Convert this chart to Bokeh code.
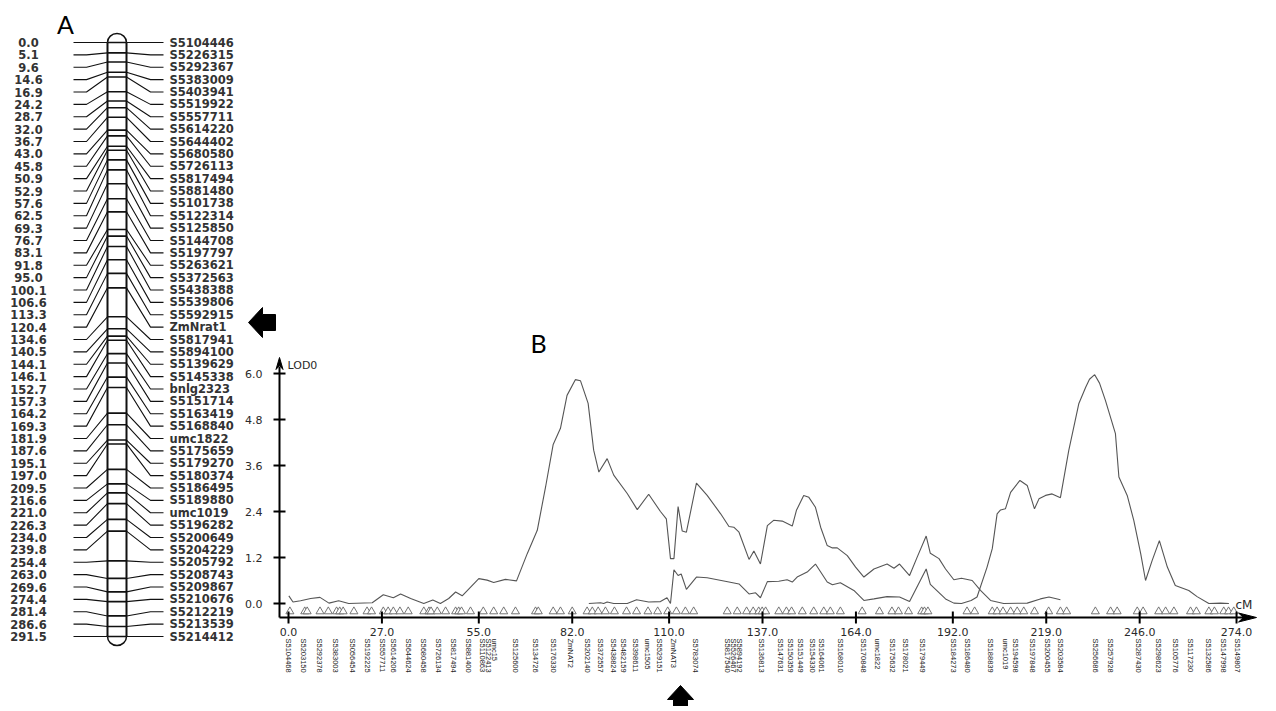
import math
from bokeh.plotting import figure
from bokeh.models import Range1d
from bokeh.core.properties import value
from bokeh.embed import file_html
from bokeh.resources import INLINE

# ---------------- Panel A data: linkage map ----------------
a_pos = [0.0, 5.1, 9.6, 14.6, 16.9, 24.2, 28.7, 32.0, 36.7, 43.0, 45.8, 50.9, 52.9, 57.6,
         62.5, 69.3, 76.7, 83.1, 91.8, 95.0, 100.1, 106.6, 113.3, 120.4, 134.6, 140.5,
         144.1, 146.1, 152.7, 157.3, 164.2, 169.3, 181.9, 187.6, 195.1, 197.0, 209.5,
         216.6, 221.0, 226.3, 234.0, 239.8, 254.4, 263.0, 269.6, 274.4, 281.4, 286.6, 291.5]
a_names = ["S5104446", "S5226315", "S5292367", "S5383009", "S5403941", "S5519922", "S5557711",
           "S5614220", "S5644402", "S5680580", "S5726113", "S5817494", "S5881480", "S5101738",
           "S5122314", "S5125850", "S5144708", "S5197797", "S5263621", "S5372563", "S5438388",
           "S5539806", "S5592915", "ZmNrat1", "S5817941", "S5894100", "S5139629", "S5145338",
           "bnlg2323", "S5151714", "S5163419", "S5168840", "umc1822", "S5175659", "S5179270",
           "S5180374", "S5186495", "S5189880", "umc1019", "S5196282", "S5200649", "S5204229",
           "S5205792", "S5208743", "S5209867", "S5210676", "S5212219", "S5213539", "S5214412"]

# ---------------- Panel B data: LOD profiles ----------------
lod1_cm = [0.1, 1.3, 3.5, 6.4, 9.1, 11.7, 14.5, 17.4, 24.2, 27.4,
           30.3, 32.4, 35.3, 39.1, 41.7, 43.9, 46.3, 48.3, 50.2, 55.0,
           57.4, 59.3, 62.7, 65.9, 69.0, 71.9, 74.3, 76.5, 78.6, 80.5,
           82.9, 84.4, 86.6, 88.2, 89.7, 92.1, 94.0, 97.9, 100.8, 104.1,
           107.5, 109.2, 110.4, 111.4, 112.6, 113.8, 115.0, 117.9, 121.0, 124.9,
           127.3, 128.7, 130.2, 133.1, 134.5, 136.4, 138.4, 140.2, 142.7, 145.6,
           146.8, 148.9, 150.4, 152.3, 153.8, 155.7, 157.2, 158.6, 161.5, 163.9,
           166.3, 169.2, 173.0, 175.0, 176.6, 179.5, 181.7, 184.3, 185.5, 188.0,
           189.9, 192.3, 194.5, 197.6, 200.0, 202.9, 206.7, 213.5, 217.3, 219.8,
           223.1]
lod1 = [0.20, 0.04, 0.07, 0.13, 0.16, 0.01, 0.07, 0.0, 0.02, 0.23,
        0.15, 0.25, 0.13, 0.0, 0.09, 0.0, 0.13, 0.30, 0.20, 0.65,
        0.61, 0.55, 0.63, 0.59, 1.30, 1.91, 3.04, 4.15, 4.57, 5.43,
        5.84, 5.81, 5.22, 4.0, 3.43, 3.78, 3.35, 2.87, 2.45, 2.85,
        2.40, 2.21, 1.17, 1.17, 2.53, 1.89, 1.86, 3.14, 2.82, 2.34,
        2.01, 1.99, 1.86, 1.15, 1.37, 1.03, 2.03, 2.17, 2.15, 2.02,
        2.43, 2.82, 2.77, 2.51, 1.99, 1.51, 1.45, 1.45, 1.25, 0.95,
        0.69, 0.90, 1.03, 0.92, 1.03, 0.73, 1.21, 1.76, 1.31, 1.17,
        0.90, 0.62, 0.66, 0.60, 0.34, 0.08, 0.0, 0.01, 0.12, 0.17,
        0.10]

lod2_cm = [86.8, 90.2, 91.1, 92.1, 94.0, 97.9, 100.6, 104.1, 107.5, 109.4,
           110.4, 111.4, 112.6, 113.5, 115.0, 117.9, 121.0, 127.3, 130.2, 133.1,
           135.0, 136.4, 138.4, 141.7, 144.1, 145.6, 147.0, 149.9, 152.3, 155.7,
           157.2, 159.5, 163.4, 166.3, 169.2, 173.0, 176.6, 179.5, 184.3, 185.5,
           189.9, 192.3, 194.5, 197.3, 199.0, 201.9, 203.4, 204.8, 205.8, 207.2,
           208.7, 211.4, 213.5, 215.6, 216.9, 218.8, 220.7, 223.1, 225.5, 228.4,
           230.4, 231.5, 233.0, 234.4, 236.1, 239.0, 240.0, 242.4, 244.3, 246.3,
           247.7, 249.6, 251.7, 254.0, 256.3, 260.2, 262.6, 266.0, 269.4, 271.8]
lod2 = [0.0, 0.02, 0.0, 0.04, 0.0, 0.0, 0.10, 0.04, 0.05, 0.15,
        0.0, 0.88, 0.73, 0.77, 0.37, 0.69, 0.67, 0.56, 0.51, 0.25,
        0.28, 0.15, 0.57, 0.58, 0.62, 0.56, 0.69, 0.82, 1.03, 0.56,
        0.49, 0.54, 0.34, 0.08, 0.12, 0.18, 0.17, 0.05, 0.90, 0.50,
        0.12, 0.01, 0.0, 0.08, 0.17, 0.95, 1.43, 2.34, 2.44, 2.47,
        2.90, 3.21, 3.08, 2.47, 2.73, 2.82, 2.86, 2.76, 3.99, 5.21,
        5.64, 5.85, 5.97, 5.75, 5.30, 4.43, 3.30, 2.82, 2.17, 1.30,
        0.60, 1.12, 1.64, 0.95, 0.47, 0.34, 0.18, 0.0, 0.01, 0.0]

b_pos = [0.0, 4.3, 9.0, 13.6, 18.5, 22.8, 27.2, 30.3, 34.7, 39.0, 43.4, 47.7, 52.0,
         56.1, 57.8, 59.5, 65.6, 71.4, 76.6, 81.5, 86.4, 90.2, 93.9, 96.8, 100.3,
         103.8, 107.2, 111.3, 117.6, 126.9, 128.6, 130.3, 136.7, 142.2, 145.1, 148.0,
         151.4, 154.0, 159.5, 166.2, 170.2, 174.6, 178.3, 183.2, 192.2, 196.2, 202.9,
         207.2, 210.1, 215.0, 219.4, 223.1, 233.2, 237.6, 245.7, 251.4, 256.4, 260.7,
         265.9, 270.2, 274.3]
b_names = ["S5104468", "S5203150", "S5292378", "S5383003", "S5056454", "S5192225",
           "S5557711", "S5614206", "S5644624", "S5680458", "S5726134", "S5817494",
           "S5881400", "S5110863", "S5122413", "umc15", "S5125600", "S5134726",
           "S5176330", "ZmNAT2", "S5202140", "S5372557", "S5438824", "S5482159",
           "S5398611", "umc1505", "S5529151", "ZmNAT3", "S5783074", "S5817540",
           "S5526467", "S5894192", "S5136813", "S5147631", "S5150359", "S5151449",
           "S5154330", "S5164061", "S5168010", "S5170848", "umc1822", "S5175632",
           "S5178021", "S5179449", "S5184273", "S5186480", "S5188839", "umc1019",
           "S5194598", "S5197848", "S5200455", "S5203584", "S5256686", "S5257928",
           "S5287430", "S5298623", "S5105776", "S5117230", "S5132586", "S5147998",
           "S5149807"]
b_tri = [0.4, 4.7, 5.4, 9.1, 11.5, 13.9, 14.8, 15.8, 18.9, 22.7, 24.0, 27.4, 28.8, 30.3,
         32.2, 34.6, 39.1, 40.6, 41.2, 43.0, 45.4, 48.3, 49.2, 50.0, 52.6, 56.3, 59.3,
         62.2, 65.6, 71.4, 72.2, 76.5, 78.6, 82.0, 86.3, 87.8, 89.5, 91.6, 94.2, 97.7,
         100.6, 103.9, 106.7, 109.6, 112.1, 114.7, 117.1, 126.8, 129.7, 132.4, 134.3,
         135.9, 136.9, 137.9, 141.7, 143.9, 145.4, 148.5, 151.8, 154.7, 156.6, 159.5,
         165.8, 170.8, 174.4, 176.3, 179.2, 183.0, 183.8, 184.8, 196.1, 198.3, 203.4,
         204.8, 206.5, 208.7, 210.6, 212.5, 215.6, 219.7, 223.1, 224.9, 233.2, 237.6,
         239.5, 245.3, 247.0, 251.5, 253.5, 255.9, 260.7, 262.4, 266.0, 267.6, 270.3,
         271.7, 273.2]
x_ticks = [0, 27, 55, 82, 110, 137, 164, 192, 219, 246, 274]
x_tick_labels = ["0.0", "27.0", "55.0", "82.0", "110.0", "137.0", "164.0", "192.0",
                 "219.0", "246.0", "274.0"]
y_ticks = [0.0, 1.2, 2.4, 3.6, 4.8, 6.0]
y_tick_labels = ["0.0", "1.2", "2.4", "3.6", "4.8", "6.0"]

assert len(lod1_cm) == len(lod1) and len(lod2_cm) == len(lod2)
assert len(b_pos) == len(b_names) and len(a_pos) == len(a_names)

# ---------------- layout geometry (page pixels) ----------------
W, H = 1270, 706
PL, PT, PR, PB = 0, 0, W, H

# panel A chromosome scale
CHR_TOP, CHR_BOT = 42, 636
chr_span = a_pos[-1]
s_chr = (CHR_BOT - CHR_TOP) / chr_span

# panel B scales
X0, PXC = 288.0, 3.46     # page x of 0 cM, px per cM
Y0, PXL = 603.0, 38.33    # page y of LOD 0, px per LOD


def cm_at(px):
    return (px - X0) / PXC


def lod_at(py):
    return (Y0 - py) / PXL


p = figure(width=W, height=H, x_range=Range1d(PL, PR), y_range=Range1d(PB, PT),
           output_backend="svg", toolbar_location=None, min_border=0,
           x_axis_location=None, y_axis_location=None)
p.outline_line_color = None
p.grid.visible = False
p.background_fill_color = "white"
p.border_fill_color = "white"

p.extra_y_ranges = {
    "chr": Range1d(start=(PB - CHR_TOP) / s_chr, end=(PT - CHR_TOP) / s_chr),
    "lod": Range1d(start=lod_at(PB), end=lod_at(PT)),
}
p.extra_x_ranges = {"cm": Range1d(start=cm_at(PL), end=cm_at(PR))}

INK = "#111111"
TXT = "#2a2a2a"

# ---------------- Panel A ----------------
n = len(a_pos)
rows = [i * chr_span / (n - 1) for i in range(n)]
CL, CR = 107, 126
xs = [[73, 86, CL] for _ in range(n)] + [[CR, 150, 163] for _ in range(n)]
ys = [[r, r, c] for r, c in zip(rows, a_pos)] + [[c, r, r] for r, c in zip(rows, a_pos)]
p.multi_line(xs, ys, y_range_name="chr", line_color=INK, line_width=1.1)

CX = (CL + CR) / 2
p.ellipse(x=[CX, CX], y=[0, chr_span], width=CR - CL, height=18, width_units="screen",
          height_units="screen", y_range_name="chr", fill_color="white",
          line_color=INK, line_width=1.5)
p.quad(left=CL, right=CR, top=0, bottom=chr_span, y_range_name="chr",
       fill_color="white", line_color=None)
p.segment(x0=[CL, CR], x1=[CL, CR], y0=[0, 0], y1=[chr_span, chr_span],
          y_range_name="chr", line_color=INK, line_width=2)
p.segment(x0=CL, x1=CR, y0=a_pos, y1=a_pos, y_range_name="chr",
          line_color=INK, line_width=1.6)

p.text(x=28, y=rows, text=[f"{v:.1f}" for v in a_pos], y_range_name="chr",
       text_align="center", text_baseline="middle", text_font=value("DejaVu Sans"),
       text_font_size="11.5px", text_font_style="bold", text_color="#333333")
p.text(x=169, y=rows, text=a_names, y_range_name="chr",
       text_align="left", text_baseline="middle", text_font=value("DejaVu Sans"),
       text_font_size="11.5px", text_font_style="bold", text_color="#333333")

p.text(x=[65], y=[23], text=["A"], text_align="center", text_baseline="middle",
       text_font=value("Lato"), text_font_size="25px", text_color="black")

# arrow pointing to ZmNrat1
p.patch(x=[248, 262, 262, 275, 275, 262, 262], y=[322, 307, 314, 314, 330, 330, 337],
        fill_color="black", line_color="black")

# ---------------- Panel B ----------------
p.text(x=[538], y=[342], text=["B"], text_align="center", text_baseline="middle",
       text_font=value("Lato"), text_font_size="25px", text_color="black")

p.line(lod1_cm, lod1, x_range_name="cm", y_range_name="lod", line_color="#555555",
       line_width=1.1)
p.line(lod2_cm, lod2, x_range_name="cm", y_range_name="lod", line_color="#555555",
       line_width=1.1)

p.scatter(b_tri, [lod_at(611)] * len(b_tri), marker="triangle", size=8,
          x_range_name="cm", y_range_name="lod", fill_color="white",
          line_color="#666666", line_width=0.9)

AXY = lod_at(617)
AXX = cm_at(279)
# x axis + arrow
p.segment(x0=AXX, x1=cm_at(1248), y0=AXY, y1=AXY, x_range_name="cm", y_range_name="lod",
          line_color="black", line_width=2)
p.patch(x=[cm_at(1256), cm_at(1238), cm_at(1243), cm_at(1238)],
        y=[AXY, lod_at(612.5), AXY, lod_at(621.5)], x_range_name="cm", y_range_name="lod",
        fill_color="black", line_color="black")
# y axis + arrow
p.segment(x0=AXX, x1=AXX, y0=AXY, y1=lod_at(366), x_range_name="cm", y_range_name="lod",
          line_color="black", line_width=2)
p.patch(x=[AXX, cm_at(275.5), AXX, cm_at(282.5)],
        y=[lod_at(357), lod_at(369), lod_at(365), lod_at(369)],
        x_range_name="cm", y_range_name="lod", fill_color="black", line_color="black")

# ticks
p.segment(x0=x_ticks, x1=x_ticks, y0=lod_at(611), y1=lod_at(623), x_range_name="cm",
          y_range_name="lod", line_color="black", line_width=2)
p.text(x=x_ticks, y=lod_at(631), text=x_tick_labels, x_range_name="cm", y_range_name="lod",
       text_align="center", text_baseline="middle", text_font=value("DejaVu Sans"),
       text_font_size="11px", text_color=TXT)
p.segment(x0=cm_at(273), x1=cm_at(285), y0=y_ticks, y1=y_ticks, x_range_name="cm",
          y_range_name="lod", line_color="black", line_width=2)
p.text(x=cm_at(262), y=y_ticks, text=y_tick_labels, x_range_name="cm", y_range_name="lod",
       text_align="right", text_baseline="middle", text_font=value("DejaVu Sans"),
       text_font_size="11px", text_color=TXT)

p.text(x=[cm_at(287)], y=[lod_at(365)], text=["LOD0"], x_range_name="cm",
       y_range_name="lod", text_align="left", text_baseline="middle",
       text_font=value("DejaVu Sans"), text_font_size="11px", text_color=TXT)
p.text(x=[cm_at(1235)], y=[lod_at(604)], text=["cM"], x_range_name="cm",
       y_range_name="lod", text_align="left", text_baseline="middle",
       text_font=value("DejaVu Sans"), text_font_size="12px", text_color=TXT)

# marker names (vertical)
p.text(x=b_pos, y=lod_at(638), text=b_names, x_range_name="cm", y_range_name="lod",
       angle=-math.pi / 2, text_align="left", text_baseline="middle",
       text_font=value("Liberation Sans"), text_font_size="7.5px", text_color="#222222")

# arrow pointing to ZmNAT3
p.patch(x=[680, 693, 687, 687, 673, 673, 667], y=[685, 699, 699, 706, 706, 699, 699],
        fill_color="black", line_color="black")

open("out.html", "w").write(file_html(p, INLINE))
